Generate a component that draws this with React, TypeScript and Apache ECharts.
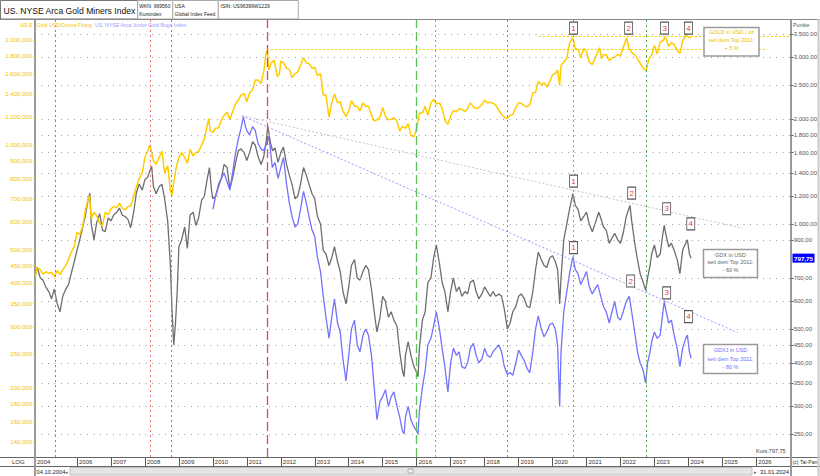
import React, { useEffect, useRef } from "react";
import * as echarts from "echarts";

const FONT = "'Liberation Sans', Arial, sans-serif";

// Gold USD/oz (left axis), [decimal year, value]
const goldSeries: [number, number][] = [
  [2004.77, 418], [2004.83, 445], [2004.92, 438], [2005.0, 425], [2005.08, 432], [2005.17, 428], [2005.25, 430], [2005.33, 418], [2005.42, 435], [2005.5, 424], [2005.58, 438], [2005.67, 450], [2005.75, 468], [2005.83, 492], [2005.92, 510],
  [2006.0, 560], [2006.08, 552], [2006.17, 585], [2006.25, 650], [2006.33, 700], [2006.37, 715], [2006.42, 615], [2006.5, 640], [2006.58, 625], [2006.67, 595], [2006.75, 585], [2006.83, 640], [2006.92, 630],
  [2007.0, 655], [2007.08, 665], [2007.17, 660], [2007.25, 680], [2007.33, 658], [2007.42, 650], [2007.5, 665], [2007.58, 668], [2007.67, 710], [2007.75, 760], [2007.83, 800], [2007.92, 830],
  [2008.0, 920], [2008.08, 960], [2008.15, 1000], [2008.25, 900], [2008.33, 880], [2008.42, 920], [2008.5, 960], [2008.58, 830], [2008.67, 870], [2008.75, 740], [2008.8, 718], [2008.83, 760], [2008.92, 860],
  [2009.0, 920], [2009.08, 950], [2009.17, 920], [2009.25, 885], [2009.33, 970], [2009.42, 930], [2009.5, 950], [2009.58, 955], [2009.67, 1000], [2009.75, 1040], [2009.88, 1190], [2009.92, 1100],
  [2010.0, 1085], [2010.08, 1115], [2010.17, 1120], [2010.25, 1180], [2010.33, 1215], [2010.42, 1240], [2010.5, 1180], [2010.58, 1245], [2010.67, 1310], [2010.75, 1345], [2010.83, 1390], [2010.92, 1405],
  [2011.0, 1330], [2011.08, 1410], [2011.17, 1440], [2011.25, 1535], [2011.33, 1535], [2011.42, 1500], [2011.5, 1625], [2011.56, 1820], [2011.6, 1870], [2011.65, 1640], [2011.72, 1720], [2011.8, 1750], [2011.9, 1570], [2011.96, 1600],
  [2012.0, 1740], [2012.08, 1720], [2012.17, 1660], [2012.25, 1650], [2012.33, 1560], [2012.42, 1600], [2012.5, 1620], [2012.58, 1690], [2012.67, 1775], [2012.75, 1720], [2012.83, 1710], [2012.92, 1660],
  [2013.0, 1670], [2013.08, 1580], [2013.17, 1600], [2013.25, 1390], [2013.33, 1390], [2013.42, 1200], [2013.5, 1320], [2013.58, 1400], [2013.67, 1320], [2013.75, 1330], [2013.83, 1250], [2013.92, 1205],
  [2014.0, 1250], [2014.08, 1340], [2014.17, 1290], [2014.25, 1290], [2014.33, 1250], [2014.42, 1320], [2014.5, 1290], [2014.58, 1290], [2014.67, 1215], [2014.75, 1170], [2014.83, 1180], [2014.92, 1200],
  [2015.0, 1280], [2015.08, 1210], [2015.17, 1180], [2015.25, 1185], [2015.33, 1195], [2015.42, 1170], [2015.5, 1095], [2015.58, 1130], [2015.67, 1115], [2015.75, 1150], [2015.83, 1065], [2015.92, 1055],
  [2016.0, 1115], [2016.08, 1235], [2016.17, 1235], [2016.25, 1290], [2016.33, 1215], [2016.42, 1320], [2016.5, 1350], [2016.58, 1310], [2016.67, 1320], [2016.75, 1275], [2016.83, 1175], [2016.92, 1145],
  [2017.0, 1210], [2017.08, 1255], [2017.17, 1245], [2017.25, 1270], [2017.33, 1265], [2017.42, 1245], [2017.5, 1270], [2017.58, 1320], [2017.67, 1285], [2017.75, 1270], [2017.83, 1280], [2017.92, 1305],
  [2018.0, 1345], [2018.08, 1320], [2018.17, 1325], [2018.25, 1315], [2018.33, 1300], [2018.42, 1255], [2018.5, 1225], [2018.58, 1200], [2018.67, 1190], [2018.75, 1215], [2018.83, 1222], [2018.92, 1280],
  [2019.0, 1320], [2019.08, 1315], [2019.17, 1295], [2019.25, 1285], [2019.33, 1305], [2019.42, 1410], [2019.5, 1415], [2019.58, 1520], [2019.67, 1485], [2019.75, 1510], [2019.83, 1465], [2019.92, 1520],
  [2020.0, 1590], [2020.08, 1600], [2020.15, 1640], [2020.21, 1480], [2020.25, 1690], [2020.33, 1730], [2020.42, 1770], [2020.5, 1960], [2020.6, 2030], [2020.67, 1890], [2020.75, 1880], [2020.83, 1780], [2020.92, 1890],
  [2021.0, 1850], [2021.08, 1730], [2021.17, 1700], [2021.25, 1770], [2021.38, 1900], [2021.45, 1770], [2021.5, 1815], [2021.58, 1815], [2021.67, 1745], [2021.75, 1780], [2021.83, 1785], [2021.92, 1820],
  [2022.0, 1800], [2022.08, 1900], [2022.18, 2030], [2022.25, 1900], [2022.33, 1840], [2022.42, 1815], [2022.5, 1765], [2022.58, 1715], [2022.67, 1660], [2022.76, 1630], [2022.83, 1760], [2022.92, 1815],
  [2023.0, 1930], [2023.08, 1825], [2023.17, 1970], [2023.25, 1990], [2023.32, 2040], [2023.42, 1920], [2023.5, 1965], [2023.58, 1940], [2023.67, 1870], [2023.75, 1830], [2023.83, 1990], [2023.94, 2070],
  [2024.0, 2040], [2024.08, 2035],
];

// NYSE Arca Gold Miners Index (right axis)
const gdxSeries: [number, number][] = [
  [2004.77, 705], [2004.83, 752], [2004.92, 700], [2005.0, 690], [2005.08, 660], [2005.17, 640], [2005.25, 610], [2005.33, 650], [2005.42, 590], [2005.5, 560], [2005.58, 620], [2005.67, 650], [2005.75, 670], [2005.83, 720], [2005.92, 780],
  [2006.0, 840], [2006.08, 900], [2006.17, 980], [2006.25, 1060], [2006.33, 1180], [2006.38, 1224], [2006.42, 1000], [2006.5, 900], [2006.58, 1010], [2006.67, 1070], [2006.75, 960], [2006.83, 950], [2006.92, 1040],
  [2007.0, 1020], [2007.08, 1060], [2007.17, 1080], [2007.25, 1110], [2007.33, 1060], [2007.42, 1050], [2007.5, 1030], [2007.58, 975], [2007.67, 1080], [2007.75, 1230], [2007.83, 1300], [2007.92, 1250],
  [2008.0, 1340], [2008.08, 1360], [2008.17, 1440], [2008.2, 1460], [2008.25, 1280], [2008.33, 1220], [2008.42, 1280], [2008.5, 1300], [2008.58, 1180], [2008.67, 1020], [2008.75, 760], [2008.8, 560], [2008.85, 450], [2008.9, 520], [2008.95, 640],
  [2009.0, 860], [2009.08, 900], [2009.17, 980], [2009.25, 850], [2009.33, 1060], [2009.42, 1080], [2009.5, 990], [2009.58, 1040], [2009.67, 1170], [2009.75, 1200], [2009.83, 1340], [2009.9, 1450], [2009.96, 1250],
  [2010.0, 1180], [2010.08, 1200], [2010.17, 1300], [2010.25, 1350], [2010.33, 1480], [2010.42, 1450], [2010.5, 1260], [2010.58, 1350], [2010.67, 1500], [2010.75, 1620], [2010.83, 1640], [2010.92, 1600],
  [2011.0, 1520], [2011.08, 1600], [2011.17, 1720], [2011.25, 1680], [2011.33, 1560], [2011.42, 1480], [2011.5, 1560], [2011.56, 1700], [2011.62, 1900], [2011.7, 1700], [2011.76, 1620], [2011.83, 1650], [2011.92, 1500],
  [2012.0, 1600], [2012.08, 1660], [2012.17, 1480], [2012.25, 1380], [2012.33, 1300], [2012.42, 1180], [2012.5, 1200], [2012.58, 1300], [2012.67, 1450], [2012.75, 1380], [2012.83, 1300], [2012.92, 1220],
  [2013.0, 1180], [2013.08, 1050], [2013.17, 1000], [2013.25, 840], [2013.33, 820], [2013.42, 760], [2013.5, 800], [2013.58, 860], [2013.67, 780], [2013.75, 730], [2013.83, 640], [2013.92, 590],
  [2014.0, 660], [2014.08, 760], [2014.17, 790], [2014.25, 700], [2014.33, 690], [2014.42, 730], [2014.5, 760], [2014.58, 740], [2014.67, 650], [2014.75, 560], [2014.83, 490], [2014.92, 540],
  [2015.0, 620], [2015.08, 600], [2015.17, 540], [2015.25, 560], [2015.33, 530], [2015.42, 510], [2015.5, 430], [2015.58, 380], [2015.63, 365], [2015.67, 420], [2015.75, 460], [2015.83, 420], [2015.92, 390],
  [2016.0, 375], [2016.04, 365], [2016.08, 440], [2016.17, 530], [2016.25, 560], [2016.33, 680], [2016.42, 700], [2016.5, 800], [2016.58, 870], [2016.67, 770], [2016.75, 680], [2016.83, 640], [2016.92, 560],
  [2017.0, 640], [2017.08, 700], [2017.17, 640], [2017.25, 660], [2017.33, 620], [2017.42, 640], [2017.5, 630], [2017.58, 680], [2017.67, 690], [2017.75, 640], [2017.83, 610], [2017.92, 630],
  [2018.0, 660], [2018.08, 640], [2018.17, 620], [2018.25, 640], [2018.33, 620], [2018.42, 630], [2018.5, 620], [2018.58, 570], [2018.67, 500], [2018.75, 520], [2018.83, 560], [2018.92, 580],
  [2019.0, 620], [2019.08, 630], [2019.17, 610], [2019.25, 580], [2019.33, 575], [2019.42, 640], [2019.5, 740], [2019.58, 830], [2019.67, 790], [2019.75, 760], [2019.83, 750], [2019.92, 800],
  [2020.0, 810], [2020.08, 780], [2020.15, 740], [2020.21, 590], [2020.25, 700], [2020.33, 900], [2020.42, 1000], [2020.5, 1100], [2020.6, 1220], [2020.67, 1130], [2020.75, 1100], [2020.83, 1020], [2020.92, 1050],
  [2021.0, 1080], [2021.08, 1000], [2021.17, 950], [2021.25, 1000], [2021.36, 1080], [2021.42, 1040], [2021.5, 980], [2021.58, 960], [2021.67, 880], [2021.75, 910], [2021.83, 940], [2021.92, 900],
  [2022.0, 880], [2022.08, 940], [2022.17, 1050], [2022.28, 1130], [2022.33, 1020], [2022.42, 880], [2022.5, 790], [2022.58, 720], [2022.67, 680], [2022.74, 645], [2022.8, 700], [2022.87, 760], [2022.92, 820],
  [2023.0, 870], [2023.08, 800], [2023.17, 820], [2023.25, 940], [2023.29, 990], [2023.33, 940], [2023.42, 860], [2023.5, 880], [2023.58, 840], [2023.67, 790], [2023.75, 720], [2023.83, 840], [2023.92, 880],
  [2023.97, 900], [2024.03, 820], [2024.08, 797.75],
];

// NYSE Arca Junior Gold Miners (right axis)
const gdxjSeries: [number, number][] = [
  [2010.0, 1100], [2010.08, 1200], [2010.17, 1280], [2010.25, 1350], [2010.33, 1400], [2010.42, 1320], [2010.5, 1250], [2010.58, 1400], [2010.67, 1600], [2010.75, 1750], [2010.83, 1880], [2010.9, 2030], [2010.96, 1900],
  [2011.0, 1850], [2011.08, 1800], [2011.17, 1900], [2011.25, 1850], [2011.33, 1700], [2011.42, 1640], [2011.5, 1620], [2011.58, 1700], [2011.65, 1780], [2011.72, 1550], [2011.75, 1450], [2011.83, 1500], [2011.92, 1350],
  [2012.0, 1450], [2012.08, 1550], [2012.17, 1300], [2012.25, 1150], [2012.33, 1050], [2012.42, 980], [2012.5, 1000], [2012.58, 1100], [2012.67, 1240], [2012.75, 1150], [2012.83, 1050], [2012.92, 960],
  [2013.0, 920], [2013.08, 800], [2013.17, 730], [2013.25, 620], [2013.33, 540], [2013.42, 470], [2013.5, 540], [2013.58, 610], [2013.67, 520], [2013.75, 490], [2013.83, 410], [2013.92, 355],
  [2014.0, 420], [2014.08, 500], [2014.17, 530], [2014.25, 450], [2014.33, 430], [2014.42, 480], [2014.5, 500], [2014.58, 480], [2014.67, 420], [2014.75, 340], [2014.83, 275], [2014.92, 310],
  [2015.0, 320], [2015.08, 335], [2015.17, 300], [2015.25, 320], [2015.33, 330], [2015.42, 300], [2015.5, 280], [2015.58, 255], [2015.63, 250], [2015.67, 280], [2015.75, 300], [2015.83, 275], [2015.92, 262],
  [2016.0, 255], [2016.04, 250], [2016.08, 290], [2016.17, 340], [2016.25, 380], [2016.33, 450], [2016.42, 470], [2016.5, 510], [2016.58, 560], [2016.67, 500], [2016.75, 440], [2016.83, 390], [2016.92, 330],
  [2017.0, 400], [2017.08, 440], [2017.17, 420], [2017.25, 430], [2017.33, 390], [2017.42, 385], [2017.5, 400], [2017.58, 440], [2017.67, 455], [2017.75, 420], [2017.83, 400], [2017.92, 410],
  [2018.0, 440], [2018.08, 420], [2018.17, 415], [2018.25, 430], [2018.33, 440], [2018.42, 450], [2018.5, 430], [2018.58, 390], [2018.67, 370], [2018.75, 375], [2018.83, 368], [2018.92, 400],
  [2019.0, 435], [2019.08, 420], [2019.17, 405], [2019.25, 385], [2019.33, 375], [2019.42, 430], [2019.5, 500], [2019.58, 545], [2019.67, 500], [2019.75, 475], [2019.83, 490], [2019.92, 515],
  [2020.0, 520], [2020.08, 500], [2020.15, 450], [2020.21, 300], [2020.25, 430], [2020.33, 560], [2020.42, 640], [2020.5, 720], [2020.6, 805], [2020.67, 740], [2020.75, 720], [2020.83, 670], [2020.92, 700],
  [2021.0, 730], [2021.08, 660], [2021.17, 630], [2021.25, 650], [2021.33, 670], [2021.42, 620], [2021.5, 580], [2021.58, 560], [2021.67, 520], [2021.75, 560], [2021.83, 600], [2021.92, 540],
  [2022.0, 530], [2022.08, 560], [2022.17, 600], [2022.26, 620], [2022.33, 560], [2022.42, 490], [2022.5, 430], [2022.58, 400], [2022.67, 380], [2022.74, 350], [2022.8, 400], [2022.87, 430], [2022.92, 460],
  [2023.0, 490], [2023.08, 470], [2023.17, 480], [2023.25, 560], [2023.29, 600], [2023.33, 570], [2023.42, 520], [2023.5, 530], [2023.58, 480], [2023.67, 440], [2023.75, 390], [2023.83, 440], [2023.92, 470],
  [2023.97, 480], [2024.03, 430], [2024.08, 412],
];

const leftTicks = [2000, 1800, 1600, 1400, 1200, 1000, 900, 800, 700, 600, 500, 450, 400, 350, 300, 250, 200, 180, 160, 140];
const rightTicks = [3500, 3000, 2500, 2000, 1800, 1600, 1400, 1200, 1000, 900, 700, 600, 500, 450, 400, 350, 300, 250];
const yearTicks = [2006, 2007, 2008, 2009, 2010, 2011, 2012, 2013, 2014, 2015, 2016, 2017, 2018, 2019, 2020, 2021, 2022, 2023, 2024, 2025, 2026];
const firstDate = 2004.764;
const lastDate = 2027.01;
const leftRange = [126.9, 2283];
const rightRange = [214.8, 3839];

const eventYears = [2005.35, 2008.15, 2008.77, 2011.59, 2016.0, 2016.56, 2018.68, 2020.62, 2022.76];
const eventKinds = ["gd", "rd", "gd", "rD", "gD", "rd", "gd", "rd", "gd"];

const goldMarks: [number, number, string][] = [[2020.62, 2165, "1"], [2022.24, 2165, "2"], [2023.3, 2165, "3"], [2024.0, 2165, "4"]];
const gdxMarks: [number, number, string][] = [[2020.62, 1325, "1"], [2022.33, 1225, "2"], [2023.36, 1105, "3"], [2024.07, 1000, "4"]];
const gdxjMarks: [number, number, string][] = [[2020.62, 855, "1"], [2022.3, 686, "2"], [2023.36, 634, "3"], [2024.0, 542, "4"]];

const goldLevels: [number, number, number][] = [[2011.59, 2026.27, 1884], [2019.6, 2027.0, 2054]];
const gdxTrend: [number, number][] = [[2010.855, 2041], [2025.57, 973]];
const gdxjTrend: [number, number][] = [[2010.855, 2041], [2025.45, 488]];
const lastGdx = 797.75;

function deNum(v: number, dec: number) {
  const s = v.toFixed(dec);
  const parts = s.split(".");
  const i = parts[0].replace(/\B(?=(\d{3})+(?!\d))/g, ".");
  return parts[1] ? i + "," + parts[1] : i;
}

const eventStyle: Record<string, any> = {
  gd: { color: "#4caf50", type: [2, 3], width: 1 },
  rd: { color: "#ff7070", type: [2, 3], width: 1 },
  rD: { color: "#e84a4a", type: [9, 4], width: 1.3 },
  gD: { color: "#5cc05c", type: [9, 4], width: 1.3 },
};

function markerPoints(list: [number, number, string][]) {
  return {
    silent: true,
    symbol: "rect",
    symbolSize: [8, 12],
    itemStyle: { color: "#fff", borderColor: "#555", borderWidth: 1 },
    label: { show: true, position: "inside", color: "#e83a3a", fontSize: 8, fontFamily: FONT, formatter: "{b}" },
    data: list.map((m) => ({ name: m[2], coord: [m[0], m[1]] })),
  };
}

function buildOption() {
  return {
    animation: false,
    textStyle: { fontFamily: FONT },
    grid: { left: 35, right: 29, top: 20, bottom: 19, containLabel: false },
    xAxis: {
      type: "value",
      min: firstDate,
      max: lastDate,
      axisLine: { show: true, lineStyle: { color: "#666", width: 1 } },
      axisTick: { show: true, customValues: yearTicks, length: 9, inside: false, lineStyle: { color: "#555" } },
      axisLabel: {
        customValues: [firstDate, ...yearTicks],
        formatter: (v: number) => String(Math.floor(v + 0.001)),
        align: "left",
        padding: [0, 0, 0, 2],
        margin: 2,
        fontSize: 6,
        color: "#333",
        fontFamily: FONT,
      },
      splitLine: { show: false },
    },
    yAxis: [
      {
        type: "log",
        min: leftRange[0],
        max: leftRange[1],
        position: "left",
        axisLine: { show: true, lineStyle: { color: "#9a9a9a", width: 2 } },
        axisTick: { show: true, customValues: leftTicks, length: 2, lineStyle: { color: "#f0c800" } },
        axisLabel: {
          customValues: leftTicks,
          formatter: (v: number) => deNum(Math.round(v), 3),
          color: "#eec400",
          fontSize: 6,
          margin: 3,
          fontFamily: FONT,
        },
        splitLine: { show: false },
      },
      {
        type: "log",
        min: rightRange[0],
        max: rightRange[1],
        position: "right",
        axisLine: { show: true, lineStyle: { color: "#9a9a9a", width: 2 } },
        axisTick: { show: true, customValues: rightTicks, length: 3, lineStyle: { color: "#666" } },
        axisLabel: {
          customValues: rightTicks,
          formatter: (v: number) => deNum(Math.round(v), 2),
          color: "#555",
          fontSize: 6,
          margin: 3,
          fontFamily: FONT,
        },
        splitLine: { show: false },
      },
    ],
    series: [
      {
        name: "Grid",
        type: "line",
        yAxisIndex: 1,
        data: [],
        symbol: "none",
        z: 1,
        markLine: {
          silent: true,
          symbol: ["none", "none"],
          label: { show: false },
          animation: false,
          data: rightTicks.map((v) => [
            { coord: [firstDate, v], lineStyle: { color: "#9c9c9c", type: [1, 5.5], width: 1 } },
            { coord: [lastDate, v] },
          ]),
        },
      },
      {
        name: "GDX",
        type: "line",
        yAxisIndex: 1,
        data: gdxSeries,
        symbol: "none",
        z: 2,
        lineStyle: { color: "#6e6e6e", width: 1.3 },
        markLine: {
          silent: true,
          symbol: ["none", "none"],
          label: { show: false },
          animation: false,
          data: [
            [
              { coord: gdxTrend[0], lineStyle: { color: "#c4c4c4", type: [2, 2], width: 1 } },
              { coord: gdxTrend[1] },
            ],
          ],
        },
        markPoint: markerPoints(gdxMarks),
      },
      {
        name: "GDXJ",
        type: "line",
        yAxisIndex: 1,
        data: gdxjSeries,
        symbol: "none",
        z: 3,
        lineStyle: { color: "#7272ff", width: 1.3 },
        markLine: {
          silent: true,
          symbol: ["none", "none"],
          label: { show: false },
          animation: false,
          data: [
            [
              { coord: gdxjTrend[0], lineStyle: { color: "#9c9cff", type: [2, 2], width: 1 } },
              { coord: gdxjTrend[1] },
            ],
          ],
        },
        markPoint: markerPoints(gdxjMarks),
      },
      {
        name: "Gold",
        type: "line",
        yAxisIndex: 0,
        data: goldSeries,
        symbol: "none",
        z: 4,
        lineStyle: { color: "#ffcc00", width: 1.5 },
        markLine: {
          silent: true,
          symbol: ["none", "none"],
          label: { show: false },
          animation: false,
          data: [
            ...eventYears.map((y, i) => ({ xAxis: y, lineStyle: eventStyle[eventKinds[i]] })),
            ...goldLevels.map((l) => [
              { coord: [l[0], l[2]], lineStyle: { color: "#f2d000", type: [2, 2], width: 1 } },
              { coord: [l[1], l[2]] },
            ]),
          ],
        },
        markPoint: markerPoints(goldMarks),
      },
    ],
  };
}

function txt(x: number, y: number, text: string, size: number, fill: string, extra: any = {}) {
  return {
    type: "text",
    x,
    y,
    z: 100,
    silent: true,
    style: { text, fontSize: size, fontFamily: FONT, fill, verticalAlign: "middle", align: "left", ...extra },
  };
}

function box(x: number, y: number, w: number, h: number, fill: string, stroke: string, lw: number) {
  return { type: "rect", z: 99, silent: true, shape: { x, y, width: w, height: h }, style: { fill, stroke, lineWidth: lw } };
}

function line(x1: number, y1: number, x2: number, y2: number, stroke: string, lw: number) {
  return { type: "line", z: 99, silent: true, shape: { x1, y1, x2, y2 }, style: { stroke, lineWidth: lw } };
}

function noteBox(x: number, y: number, w: number, h: number, lines: string[], color: string, ys: number[]) {
  return [box(x, y, w, h, "#fff", "#9a9a9a", 1.5), ...lines.map((l, i) => txt(x + w / 2, ys[i], l, 5.5, color, { align: "center" }))];
}

function buildGraphics(yCur: number) {
  const g: any[] = [];
  // header
  g.push(box(0.5, 0.5, 137.2, 18.5, "#fff", "#777", 1));
  g.push(txt(3.5, 10.5, "US. NYSE Arca Gold Miners Index", 8.6, "#111"));
  g.push(box(137.7, 0.5, 35, 18.5, "#fff", "#aaa", 1));
  g.push(box(172.7, 0.5, 45.6, 18.5, "#fff", "#aaa", 1));
  g.push(box(218.3, 0.5, 80, 18.5, "#fff", "#aaa", 1));
  g.push(txt(139.3, 5.5, "WKN: 969560", 5, "#222"));
  g.push(txt(139.3, 14, "Kursindex", 5, "#222"));
  g.push(txt(174.5, 5.5, "USA", 5, "#222"));
  g.push(txt(174.5, 14, "Global Index Feed", 5, "#222"));
  g.push(txt(220.5, 5.5, "ISIN: US96399W1229", 5, "#222"));
  g.push(line(0, 19.5, 820, 19.5, "#888", 1));

  // legend row
  g.push(txt(20, 24.5, "US-$", 5.3, "#eec400"));
  g.push(txt(36.5, 24.5, "Gold USD/Ounce Fixing", 5.2, "#eec400"));
  g.push(txt(95, 24.5, "US. NYSE Arca Junior Gold Bugs Index", 5.2, "#9a9aff"));
  g.push(txt(793, 24.5, "Punkte", 5.3, "#555"));

  // bottom rows
  g.push(line(0, 457.5, 820, 457.5, "#666", 1));
  g.push(line(0, 466.5, 820, 466.5, "#666", 1));
  g.push(line(35, 457, 35, 476, "#9a9a9a", 2));
  g.push(line(791, 457, 791, 476, "#9a9a9a", 2));
  g.push(line(818.5, 19, 818.5, 476, "#c8c8c8", 2));
  g.push(txt(12, 462, "LOG", 6, "#333"));
  g.push(txt(792.5, 462, "(c) Tai-Pan", 5.2, "#333"));
  g.push(txt(36.5, 471.5, "04.10.2004", 5.8, "#222"));
  g.push(txt(64.5, 471.5, "◂", 5, "#666"));
  g.push(box(70, 467.5, 682, 7.5, "#e4e4e4", "#c0c0c0", 1));
  g.push(box(408, 469, 5, 4, "#f4f4f4", "#999", 0.8));
  g.push(txt(754, 471.5, "▸", 5, "#666"));
  g.push(txt(760, 471.5, "31.01.2024", 5.8, "#222"));
  g.push(txt(756, 451, "Kurs:797,75", 5.5, "#444"));

  // note boxes
  g.push(...noteBox(704, 27.5, 55, 28.5, ["GOLD in USD / oz", "seit dem Top 2011:", "+ 5 %"], "#e8c000", [32, 39.5, 48]));
  g.push(...noteBox(703.5, 249.5, 54, 28, ["GDX in USD", "seit dem Top 2011:", "- 60 %"], "#666", [254.5, 262, 270]));
  g.push(...noteBox(703.5, 344.5, 54, 29, ["GDXJ in USD", "seit dem Top 2011:", "- 80 %"], "#6e6eff", [350, 358.5, 366.5]));

  // current value tag
  g.push(box(792.5, yCur - 4.5, 22, 9, "#0000ff", "#0000ff", 0));
  g.push(txt(803.5, yCur, deNum(lastGdx, 2), 6.2, "#fff", { align: "center", fontWeight: "bold" }));
  return g;
}

export default function App() {
  const ref = useRef<HTMLDivElement>(null);
  useEffect(() => {
    if (!ref.current) return;
    const chart = echarts.init(ref.current, null, { renderer: "svg" });
    chart.setOption(buildOption() as any);
    let yCur = chart.convertToPixel({ yAxisIndex: 1 } as any, lastGdx) as any;
    if (typeof yCur !== "number" || !isFinite(yCur)) yCur = 258;
    chart.setOption({ graphic: buildGraphics(yCur) } as any);
    return () => chart.dispose();
  }, []);
  return (
    <div
      ref={ref}
      style={{ position: "fixed", left: 0, top: 0, width: 820, height: 476, background: "#fff" }}
    />
  );
}
